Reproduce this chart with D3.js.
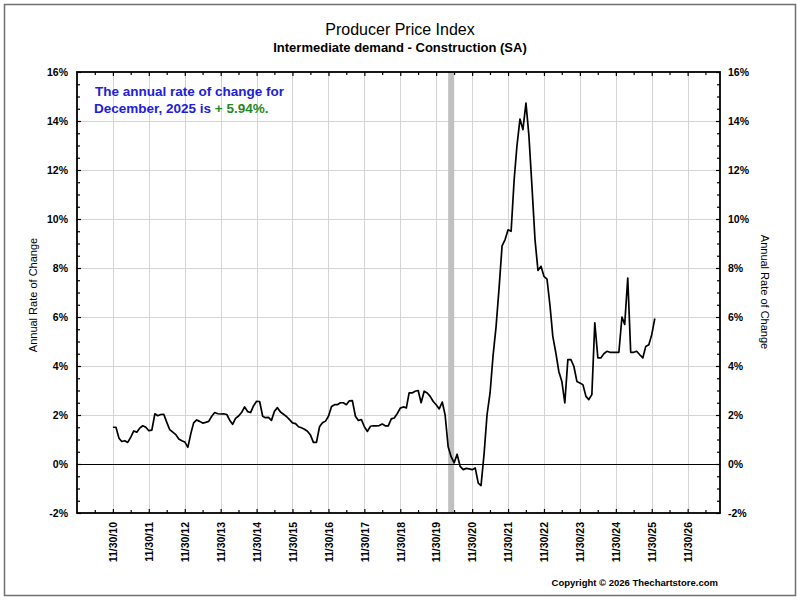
<!DOCTYPE html>
<html>
<head>
<meta charset="utf-8">
<script src="https://cdn.jsdelivr.net/npm/d3@7/dist/d3.min.js"></script>
<style>
  html, body { margin: 0; padding: 0; background: #fff; }
  svg { display: block; font-family: Arial, "Liberation Sans", sans-serif; }
</style>
</head>
<body>
<svg id="chart" width="800" height="600"></svg>
<script>
// ---------------- DATA ----------------
const titleText = "Producer Price Index";
const subtitleText = "Intermediate demand - Construction (SA)";
const axisTitle = "Annual Rate of Change";
const noteLine1 = "The annual rate of change for";
const noteLine2a = "December, 2025 is ";
const noteLine2b = "+ 5.94%.";
const copyrightText = "Copyright \u00A9 2026 Thechartstore.com";

// first observation: November 2010 (plotted at month end), last: December 2025
const seriesStart = { year: 2010, month: 10 }; // JS month index (10 = November)
const seriesValues = [
  1.50, 1.50, 1.05, 0.92, 0.95, 0.88, 1.10, 1.35, 1.30, 1.47, 1.56, 1.50,
  1.36, 1.38, 2.05, 1.97, 2.02, 2.03, 1.70, 1.40, 1.30, 1.20, 1.02, 0.95,
  0.90, 0.68, 1.25, 1.68, 1.80, 1.74, 1.67, 1.70, 1.74, 1.95, 2.10, 2.05,
  2.04, 2.05, 2.02, 1.80, 1.62, 1.86, 1.96, 2.10, 2.33, 2.14, 2.10, 2.38,
  2.56, 2.55, 1.95, 1.89, 1.90, 1.78, 2.15, 2.30, 2.12, 2.03, 1.94, 1.81,
  1.68, 1.65, 1.52, 1.48, 1.42, 1.34, 1.18, 0.88, 0.88, 1.52, 1.68, 1.75,
  1.95, 2.35, 2.42, 2.42, 2.50, 2.50, 2.42, 2.58, 2.59, 1.95, 1.78, 1.81,
  1.52, 1.33, 1.54, 1.56, 1.56, 1.57, 1.63, 1.56, 1.56, 1.84, 1.88, 2.06,
  2.28, 2.33, 2.29, 2.90, 2.90, 2.97, 3.00, 2.50, 2.97, 2.90, 2.76, 2.55,
  2.42, 2.25, 2.53, 2.00, 0.70, 0.30, 0.05, 0.40, -0.10, -0.23, -0.18, -0.20,
  -0.23, -0.16, -0.78, -0.88, 0.40, 2.00, 2.90, 4.40, 5.60, 7.20, 8.90, 9.16,
  9.56, 9.50, 11.60, 12.97, 14.08, 13.65, 14.73, 13.40, 11.33, 9.16, 7.90, 8.07,
  7.66, 7.55, 6.44, 5.21, 4.53, 3.78, 3.37, 2.49, 4.26, 4.26, 3.99, 3.37,
  3.31, 3.24, 2.76, 2.63, 2.83, 5.76, 4.33, 4.33, 4.50, 4.60, 4.56, 4.56,
  4.56, 4.56, 6.00, 5.70, 7.59, 4.56, 4.56, 4.60, 4.46, 4.33, 4.80, 4.87,
  5.28, 5.94
];

const xTickLabels = ["11/30/10","11/30/11","11/30/12","11/30/13","11/30/14","11/30/15",
  "11/30/16","11/30/17","11/30/18","11/30/19","11/30/20","11/30/21","11/30/22",
  "11/30/23","11/30/24","11/30/25","11/30/26"];
const yTickValues = [-2, 0, 2, 4, 6, 8, 10, 12, 14, 16];
const recession = { start: "2020-03-31", end: "2020-05-31" };

// ---------------- LAYOUT ----------------
const svg = d3.select("#chart");
const L = 77, R = 720, T = 72, B = 513;

const parseTick = s => { const [m, d, y] = s.split("/").map(Number); return new Date(2000 + y, m - 1, d); };
const tickDates = xTickLabels.map(parseTick);
const minorDates = tickDates.concat([new Date(2027, 10, 30)]).map(d => d3.timeMonth.offset(d, -6));

const x = d3.scaleTime()
  .domain([new Date(2009, 10, 30), new Date(2027, 9, 25)])
  .range([L, R]);
const y = d3.scaleLinear().domain([-2, 16]).range([B, T]);

const data = seriesValues.map((v, i) => ({
  date: new Date(seriesStart.year, seriesStart.month + i + 1, 0), // month end
  value: v
}));

// outer border
svg.append("rect").attr("x", 4.5).attr("y", 4.5).attr("width", 791).attr("height", 591)
  .attr("fill", "#fff").attr("stroke", "#707070").attr("stroke-width", 1.5);

// gridlines
const grid = svg.append("g").attr("stroke", "#d4d4d4").attr("stroke-width", 1);
grid.selectAll("line.v").data(tickDates).join("line")
  .attr("x1", d => Math.round(x(d)) + 0.5).attr("x2", d => Math.round(x(d)) + 0.5)
  .attr("y1", T).attr("y2", B);
grid.selectAll("line.h").data(yTickValues.filter(v => v !== -2 && v !== 16 && v !== 0)).join("line")
  .attr("x1", L).attr("x2", R)
  .attr("y1", d => Math.round(y(d)) + 0.5).attr("y2", d => Math.round(y(d)) + 0.5);

// recession band
svg.append("rect")
  .attr("x", x(new Date(recession.start)))
  .attr("width", x(new Date(recession.end)) - x(new Date(recession.start)))
  .attr("y", T).attr("height", B - T)
  .attr("fill", "#c0c0c0");

// zero line
svg.append("line").attr("x1", L).attr("x2", R)
  .attr("y1", Math.round(y(0)) + 0.5).attr("y2", Math.round(y(0)) + 0.5)
  .attr("stroke", "#000").attr("stroke-width", 1);

// series line
const line = d3.line().x(d => x(d.date)).y(d => y(d.value));
svg.append("path").datum(data)
  .attr("fill", "none").attr("stroke", "#000").attr("stroke-width", 1.7)
  .attr("stroke-linejoin", "round").attr("d", line);

// axes
const fontTick = "bold 10.5px Arial, 'Liberation Sans', sans-serif";
const minorY = d3.range(-2, 16.01, 0.5).filter(v => Math.abs(v % 2) > 0.01);

function styleAxis(g) {
  g.select(".domain").remove();
  g.selectAll(".tick line").attr("stroke", "#000").attr("stroke-width", 1.2);
  g.selectAll("text").style("font", fontTick).attr("fill", "#000");
}

// left
svg.append("g").attr("transform", `translate(${L},0)`)
  .call(d3.axisLeft(y).tickValues(yTickValues).tickSize(-4).tickPadding(9).tickFormat(d => d + "%"))
  .call(styleAxis);
svg.append("g").attr("transform", `translate(${L},0)`)
  .call(d3.axisLeft(y).tickValues(minorY).tickSize(-3).tickFormat(""))
  .call(styleAxis);
// right
svg.append("g").attr("transform", `translate(${R},0)`)
  .call(d3.axisRight(y).tickValues(yTickValues).tickSize(-4).tickPadding(8).tickFormat(d => d + "%"))
  .call(styleAxis);
svg.append("g").attr("transform", `translate(${R},0)`)
  .call(d3.axisRight(y).tickValues(minorY).tickSize(-3).tickFormat(""))
  .call(styleAxis);
// bottom
const bottom = svg.append("g").attr("transform", `translate(0,${B})`)
  .call(d3.axisBottom(x).tickValues(tickDates).tickSize(-4).tickFormat((d, i) => xTickLabels[i]))
  .call(styleAxis);
bottom.selectAll(".tick text")
  .attr("transform", "rotate(-90)")
  .attr("text-anchor", "end")
  .attr("x", -9).attr("y", 0).attr("dy", "0.36em");
svg.append("g").attr("transform", `translate(0,${B})`)
  .call(d3.axisBottom(x).tickValues(minorDates.filter(d => x(d) > L && x(d) < R)).tickSize(-3).tickFormat(""))
  .call(styleAxis);
// top
svg.append("g").attr("transform", `translate(0,${T})`)
  .call(d3.axisTop(x).tickValues(tickDates).tickSize(-4).tickFormat(""))
  .call(styleAxis);
svg.append("g").attr("transform", `translate(0,${T})`)
  .call(d3.axisTop(x).tickValues(minorDates.filter(d => x(d) > L && x(d) < R)).tickSize(-3).tickFormat(""))
  .call(styleAxis);

// plot frame
svg.append("rect").attr("x", L).attr("y", T).attr("width", R - L).attr("height", B - T)
  .attr("fill", "none").attr("stroke", "#000").attr("stroke-width", 1.8);

// titles
svg.append("text").attr("x", 400).attr("y", 35).attr("text-anchor", "middle")
  .style("font", "16px Arial, 'Liberation Sans', sans-serif").text(titleText);
svg.append("text").attr("x", 400).attr("y", 52).attr("text-anchor", "middle")
  .style("font", "bold 13px Arial, 'Liberation Sans', sans-serif").text(subtitleText);

// axis titles
svg.append("text").attr("transform", "translate(33,295) rotate(-90)")
  .attr("text-anchor", "middle").attr("dy", "0.35em")
  .style("font", "11px Arial, 'Liberation Sans', sans-serif").text(axisTitle);
svg.append("text").attr("transform", "translate(765,292) rotate(90)")
  .attr("text-anchor", "middle").attr("dy", "0.35em")
  .style("font", "11px Arial, 'Liberation Sans', sans-serif").text(axisTitle);

// note
const noteFont = "bold 13.5px Arial, 'Liberation Sans', sans-serif";
svg.append("text").attr("x", 95).attr("y", 96).style("font", noteFont)
  .attr("fill", "#2020d8").text(noteLine1);
const t2 = svg.append("text").attr("x", 94).attr("y", 113).style("font", noteFont);
t2.append("tspan").attr("fill", "#2020d8").text(noteLine2a);
t2.append("tspan").attr("fill", "#1e8a1e").text(noteLine2b);

// copyright
svg.append("text").attr("x", 718).attr("y", 586).attr("text-anchor", "end")
  .style("font", "bold 9.5px Arial, 'Liberation Sans', sans-serif").text(copyrightText);
</script>
</body>
</html>
